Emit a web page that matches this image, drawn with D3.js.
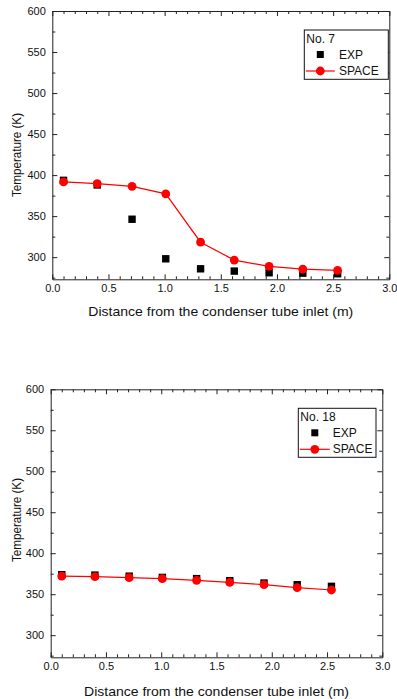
<!DOCTYPE html>
<html>
<head>
<meta charset="utf-8">
<script src="https://cdn.jsdelivr.net/npm/d3@7"></script>
<style>
  body { margin: 0; background: #fff; }
  svg { font-family: "Liberation Sans", Arial, sans-serif; }
  .axis path, .axis line { stroke: #222; }
</style>
</head>
<body>
<script>
// distance along the condenser tube (m)
var distance = [0.1, 0.4, 0.71, 1.01, 1.32, 1.62, 1.93, 2.23, 2.54];

// case No. 7
var exp7   = [393.6, 388, 346.2, 298, 285.8, 283, 281, 280.5, 279.8];
var space7 = [391.7, 389.6, 386.3, 377.1, 318.2, 296.4, 288.7, 285.4, 283.8];

// case No. 18
var exp18   = [373.8, 373.3, 372, 370.5, 369, 366.5, 363.6, 361.6, 359.6];
var space18 = [372.1, 371.4, 370.2, 369, 366.9, 364.4, 361.6, 358, 355.1];

var xTicks = [0, 0.5, 1, 1.5, 2, 2.5, 3];
var yTicks = [300, 350, 400, 450, 500, 550, 600];

var width = 397, height = 699;

var svg = d3.select("body").append("svg")
    .attr("width", width)
    .attr("height", height);

function drawPanel(p) {
  var x = d3.scaleLinear().domain([0, 3]).range([p.left, p.right]);
  var y = d3.scaleLinear().domain([273, 600]).range([p.bottom, p.top]);

  var g = svg.append("g");

  var xMinor = d3.range(1, 30).map(function(d) { return d / 10; })
      .filter(function(d) { return Math.abs(d * 2 - Math.round(d * 2)) > 1e-6; });
  var yMinor = [275, 325, 375, 425, 475, 525, 575];

  // bottom axis
  g.append("g").attr("class", "axis")
      .attr("transform", "translate(0," + p.bottom + ")")
      .call(d3.axisBottom(x).tickValues(xTicks).tickFormat(d3.format(".1f"))
        .tickSizeInner(-5).tickSizeOuter(0).tickPadding(5))
      .call(function(s) { s.selectAll("text").attr("font-size", 11).attr("fill", "#111"); });
  g.append("g").attr("class", "axis")
      .attr("transform", "translate(0," + p.bottom + ")")
      .call(d3.axisBottom(x).tickValues(xMinor).tickFormat("").tickSizeInner(-3).tickSizeOuter(0))
      .select(".domain").remove();

  // top axis
  g.append("g").attr("class", "axis")
      .attr("transform", "translate(0," + p.top + ")")
      .call(d3.axisTop(x).tickValues(xTicks).tickFormat("").tickSizeInner(-5).tickSizeOuter(0));
  g.append("g").attr("class", "axis")
      .attr("transform", "translate(0," + p.top + ")")
      .call(d3.axisTop(x).tickValues(xMinor).tickFormat("").tickSizeInner(-3).tickSizeOuter(0))
      .select(".domain").remove();

  // left axis
  g.append("g").attr("class", "axis")
      .attr("transform", "translate(" + p.left + ",0)")
      .call(d3.axisLeft(y).tickValues(yTicks).tickSizeInner(-5).tickSizeOuter(0).tickPadding(6.5))
      .call(function(s) { s.selectAll("text").attr("font-size", 11).attr("fill", "#111"); });
  g.append("g").attr("class", "axis")
      .attr("transform", "translate(" + p.left + ",0)")
      .call(d3.axisLeft(y).tickValues(yMinor).tickFormat("").tickSizeInner(-3).tickSizeOuter(0))
      .select(".domain").remove();

  // right axis
  g.append("g").attr("class", "axis")
      .attr("transform", "translate(" + p.right + ",0)")
      .call(d3.axisRight(y).tickValues(yTicks).tickFormat("").tickSizeInner(-5).tickSizeOuter(0));
  g.append("g").attr("class", "axis")
      .attr("transform", "translate(" + p.right + ",0)")
      .call(d3.axisRight(y).tickValues(yMinor).tickFormat("").tickSizeInner(-3).tickSizeOuter(0))
      .select(".domain").remove();

  // axis titles
  g.append("text")
      .attr("x", (p.left + p.right) / 2)
      .attr("y", p.xLabelY)
      .attr("dy", "0.35em")
      .attr("text-anchor", "middle")
      .attr("font-size", 13.5)
      .attr("textLength", 265)
      .attr("lengthAdjust", "spacingAndGlyphs")
      .attr("fill", "#111")
      .text("Distance from the condenser tube inlet (m)");

  g.append("text")
      .attr("transform", "translate(16.5," + p.yLabelY + ") rotate(-90)")
      .attr("dy", "0.35em")
      .attr("text-anchor", "middle")
      .attr("font-size", 13)
      .attr("textLength", 84)
      .attr("lengthAdjust", "spacingAndGlyphs")
      .attr("fill", "#111")
      .text("Temperature (K)");

  var pts = distance.map(function(d, i) { return {x: d, exp: p.exp[i], sim: p.sim[i]}; });

  // experimental squares
  g.selectAll(".sq").data(pts).enter().append("rect")
      .attr("class", "sq")
      .attr("x", function(d) { return x(d.x) - 3.7; })
      .attr("y", function(d) { return y(d.exp) - 3.7; })
      .attr("width", 7.4).attr("height", 7.4)
      .attr("fill", "#000");

  // simulation line + circles
  var line = d3.line()
      .x(function(d) { return x(d.x); })
      .y(function(d) { return y(d.sim); });
  g.append("path").datum(pts)
      .attr("d", line)
      .attr("fill", "none")
      .attr("stroke", "#ff0000")
      .attr("stroke-width", 1.2);
  g.selectAll(".ci").data(pts).enter().append("circle")
      .attr("class", "ci")
      .attr("cx", function(d) { return x(d.x); })
      .attr("cy", function(d) { return y(d.sim); })
      .attr("r", 4.4)
      .attr("fill", "#ff0000");

  // legend
  var L = p.legend;
  var lg = g.append("g").attr("transform", "translate(" + L.x + "," + L.y + ")");
  lg.append("rect")
      .attr("width", L.w).attr("height", L.h)
      .attr("fill", "#fff").attr("stroke", "#111").attr("stroke-width", 1);
  lg.append("text").attr("x", 2).attr("y", 8.5).attr("dy", "0.35em")
      .attr("font-size", 12).attr("fill", "#111").text(p.name);
  lg.append("rect")
      .attr("x", L.sym - 3.5).attr("y", 24.5 - 3.5)
      .attr("width", 7).attr("height", 7).attr("fill", "#000");
  lg.append("text").attr("x", L.txt).attr("y", 24.5).attr("dy", "0.35em")
      .attr("font-size", 12).attr("fill", "#111").text("EXP");
  lg.append("line")
      .attr("x1", 1.5).attr("x2", L.sym * 2 - 1.5)
      .attr("y1", 41).attr("y2", 41)
      .attr("stroke", "#ff0000").attr("stroke-width", 1.2);
  lg.append("circle").attr("cx", L.sym).attr("cy", 41).attr("r", 4.4).attr("fill", "#ff0000");
  lg.append("text").attr("x", L.txt).attr("y", 41).attr("dy", "0.35em")
      .attr("font-size", 12).attr("fill", "#111").text("SPACE");
}

drawPanel({
  left: 52.3, right: 389.3, top: 11, bottom: 279.3,
  xLabelY: 311.5, yLabelY: 155,
  exp: exp7, sim: space7, name: "No. 7",
  legend: {x: 304.3, y: 30, w: 84, h: 49.3, sym: 16, txt: 34.7}
});

drawPanel({
  left: 50.7, right: 382.3, top: 389.3, bottom: 657.3,
  xLabelY: 691.5, yLabelY: 520,
  exp: exp18, sim: space18, name: "No. 18",
  legend: {x: 298.3, y: 408.3, w: 77.7, h: 49, sym: 16.5, txt: 34.4}
});
</script>
</body>
</html>
